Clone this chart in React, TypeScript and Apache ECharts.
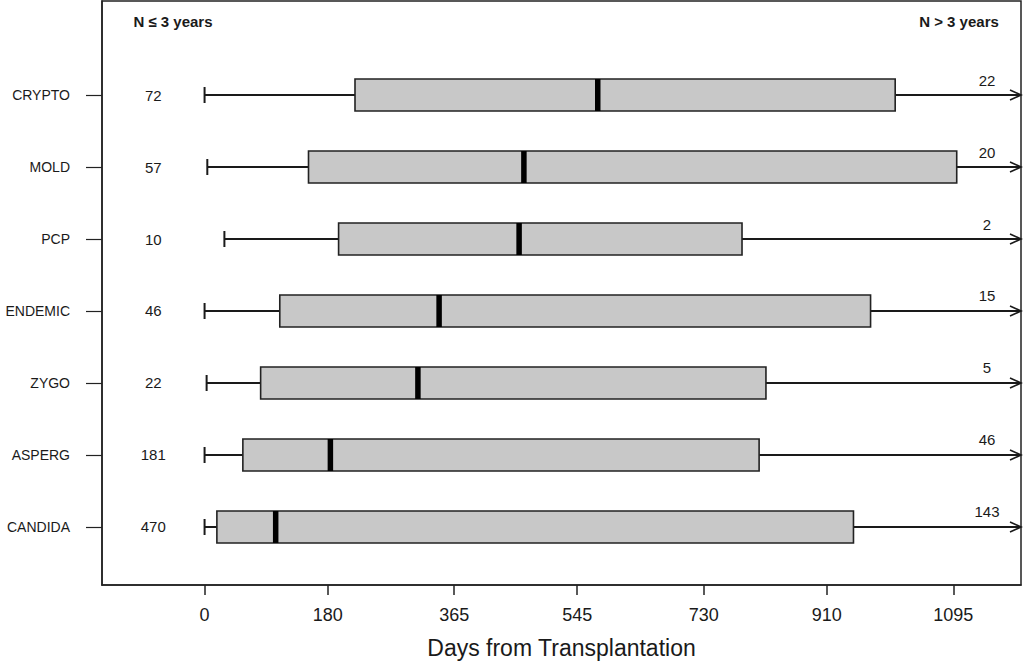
import React, { useEffect, useRef } from "react";
import * as echarts from "echarts";

// Rows from bottom (1) to top (7)
const categories = ["CANDIDA", "ASPERG", "ZYGO", "ENDEMIC", "PCP", "MOLD", "CRYPTO"];
const whiskerLow = [0, 0, 3, 0, 29, 4, 0];
const q1 = [18, 56, 82, 110, 196, 152, 220];
const median = [104, 184, 312, 343, 460, 467, 575];
const q3 = [949, 811, 821, 974, 786, 1100, 1010];
const countShort = [470, 181, 22, 46, 10, 57, 72];
const countLong = [143, 46, 5, 15, 2, 20, 22];
const xTicks = [0, 180, 365, 545, 730, 910, 1095];
const rowValues = [1, 2, 3, 4, 5, 6, 7];

const X_MIN = -150;
const X_MAX = 1194;
const Y_MIN = 0.194;
const Y_MAX = 8.306;

const FONT = "'Liberation Sans', Arial, Helvetica, sans-serif";
const INK = "#1a1a1a";

export default function App() {
  const ref = useRef<HTMLDivElement>(null);

  useEffect(() => {
    if (!ref.current) return;
    const chart = echarts.init(ref.current, undefined, { renderer: "svg" });

    const data = categories.map((c, i) => [
      rowValues[i],
      whiskerLow[i],
      q1[i],
      median[i],
      q3[i],
      countShort[i],
      countLong[i],
    ]);

    const renderItem = (params: any, api: any) => {
      const yv = api.value(0);
      const [xLow, yc] = api.coord([api.value(1), yv]);
      const xq1 = api.coord([api.value(2), yv])[0];
      const xMed = api.coord([api.value(3), yv])[0];
      const xq3 = api.coord([api.value(4), yv])[0];
      const x0 = api.coord([0, yv])[0];
      const cs = params.coordSys;
      const xRight = cs.x + cs.width;
      const h = api.size([0, 1])[1] * 0.444;
      const lineStyle = { stroke: INK, lineWidth: 2 };
      return {
        type: "group",
        children: [
          { type: "line", shape: { x1: xLow, y1: yc, x2: xq1, y2: yc }, style: lineStyle },
          { type: "line", shape: { x1: xLow, y1: yc - 8, x2: xLow, y2: yc + 8 }, style: lineStyle },
          { type: "line", shape: { x1: xq3, y1: yc, x2: xRight, y2: yc }, style: lineStyle },
          {
            type: "polyline",
            shape: { points: [[xRight - 11, yc - 5], [xRight, yc], [xRight - 11, yc + 5]] },
            style: { stroke: INK, lineWidth: 1.6, fill: "none" },
          },
          {
            type: "rect",
            shape: { x: xq1, y: yc - h / 2, width: xq3 - xq1, height: h },
            style: { fill: "#c8c8c8", stroke: "#222", lineWidth: 1.6 },
          },
          {
            type: "line",
            shape: { x1: xMed, y1: yc - h / 2, x2: xMed, y2: yc + h / 2 },
            style: { stroke: "#000", lineWidth: 5.5 },
          },
          {
            type: "text",
            style: {
              x: (cs.x + x0) / 2,
              y: yc,
              text: String(api.value(5)),
              fill: INK,
              fontSize: 15,
              fontFamily: FONT,
              align: "center",
              verticalAlign: "middle",
            },
          },
          {
            type: "text",
            style: {
              x: xRight - 34,
              y: yc - 15,
              text: String(api.value(6)),
              fill: INK,
              fontSize: 15,
              fontFamily: FONT,
              align: "center",
              verticalAlign: "middle",
            },
          },
        ],
      };
    };

    chart.setOption({
      animation: false,
      backgroundColor: "#fff",
      grid: {
        left: 102,
        right: 3,
        top: 1,
        height: 584,
        show: true,
        borderColor: "#222",
        borderWidth: 1.5,
        containLabel: false,
        outerBoundsMode: "none",
      },
      xAxis: {
        type: "value",
        min: X_MIN,
        max: X_MAX,
        splitLine: { show: false },
        axisLine: { show: true, onZero: false, lineStyle: { color: "#222", width: 1.5 } },
        axisTick: {
          show: true,
          customValues: xTicks,
          length: 10,
          lineStyle: { color: "#222", width: 1.5 },
        },
        axisLabel: {
          customValues: xTicks,
          formatter: (v: number) => String(v),
          margin: 21,
          fontSize: 18,
          fontFamily: FONT,
          color: INK,
        },
        name: "Days from Transplantation",
        nameLocation: "middle",
        nameGap: 52,
        nameTextStyle: { fontSize: 23, lineHeight: 22, fontFamily: FONT, color: INK },
      },
      yAxis: {
        type: "value",
        min: Y_MIN,
        max: Y_MAX,
        splitLine: { show: false },
        axisLine: { show: true, onZero: false, lineStyle: { color: "#222", width: 1.5 } },
        axisTick: {
          show: true,
          customValues: rowValues,
          length: 16,
          lineStyle: { color: "#222", width: 1.2 },
        },
        axisLabel: {
          customValues: rowValues,
          formatter: (v: number) => categories[Math.round(v) - 1] ?? "",
          margin: 32,
          fontSize: 14,
          fontFamily: FONT,
          color: INK,
        },
      },
      graphic: [
        {
          type: "text",
          x: 173,
          y: 21,
          style: {
            text: "N ≤ 3 years",
            fill: INK,
            font: `bold 15px ${FONT}`,
            align: "center",
            verticalAlign: "middle",
          },
        },
        {
          type: "text",
          x: 959,
          y: 21,
          style: {
            text: "N > 3 years",
            fill: INK,
            font: `bold 15px ${FONT}`,
            align: "center",
            verticalAlign: "middle",
          },
        },
      ],
      series: [
        {
          type: "custom",
          renderItem,
          data,
          encode: { x: [1, 2, 3, 4], y: 0 },
          clip: false,
        },
      ],
    });

    return () => chart.dispose();
  }, []);

  return (
    <div
      ref={ref}
      style={{ position: "absolute", left: 0, top: 0, width: 1024, height: 662 }}
    />
  );
}
